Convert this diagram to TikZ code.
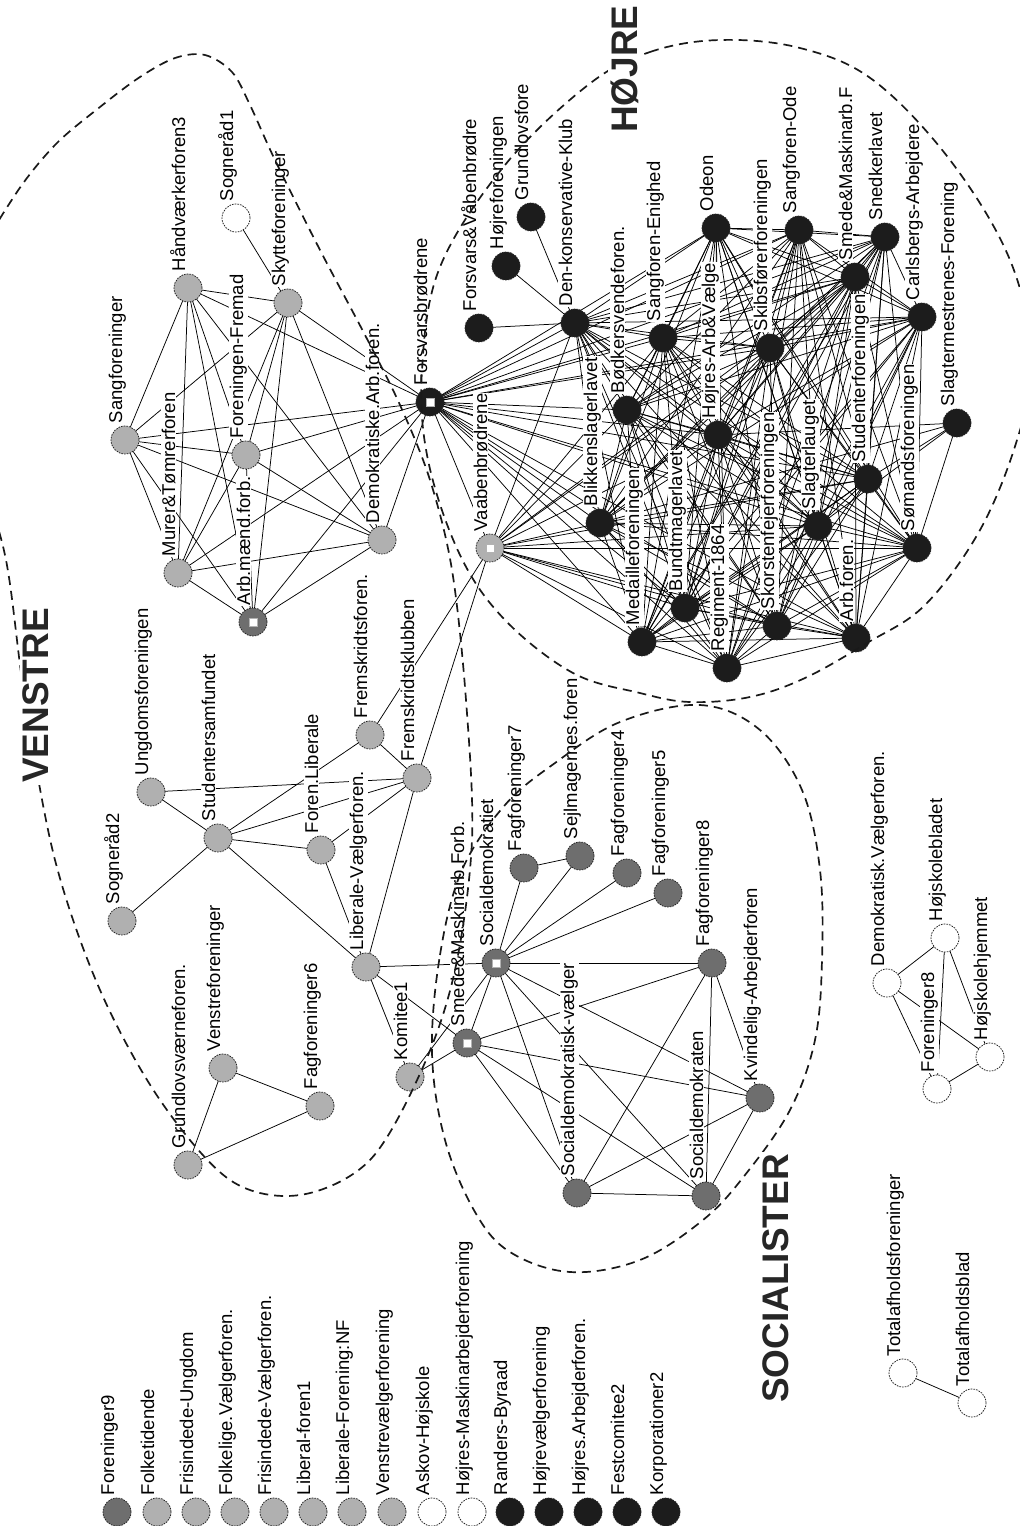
\documentclass[tikz,border=0pt]{standalone}
\usepackage{fontspec}
\setmainfont{Liberation Sans}
\definecolor{lg}{gray}{0.69}
\definecolor{dg}{gray}{0.43}
\definecolor{bk}{gray}{0.11}
\definecolor{wt}{gray}{1}
\tikzset{
 edge/.style={line width=0.75pt, draw=black},
 lbl/.style={rotate=90, anchor=base west, inner sep=0.8pt, fill=white, font=\fontsize{18.5}{18.5}\selectfont},
 circ/.style={circle, minimum size=28pt, inner sep=0pt, draw=black!85, dash pattern=on 1.6pt off 1.1pt, line width=0.8pt},
 sqmark/.style={rectangle, minimum size=8pt, inner sep=0pt, fill=white, draw=gray!60, line width=0.4pt},
 fobnode/.style={circle, minimum size=18pt, inner sep=0pt, fill=bk, draw=bk, line width=3pt},
 ell/.style={draw=black!90, line width=1.7pt, dash pattern=on 9pt off 6pt},
 title/.style={rotate=90, anchor=base west, inner sep=2pt, fill=white, font=\fontsize{37}{37}\selectfont\bfseries, text=black!85},
}
\begin{document}
\begin{tikzpicture}[x=1pt,y=-1pt]
\useasboundingbox (0,0) rectangle (1020,1526);
\fill[white] (0,0) rectangle (1020,1526);
\clip (0,0) rectangle (1020,1526);

\def\allnodes{san/125/440/lg/Sangforeninger,
hae/188/288/lg/Håndværkerforen3,
so1/236/218/wt/Sogneråd1,
sky/288/303/lg/Skytteforeninger,
fre/246/455/lg/Foreningen-Fremad,
mur/178/573/lg/Murer\&Tømrerforen,
amf/253/622/dg/Arb.mænd.forb.,
dem/382/540/lg/Demokratiske.Arb.foren.,
fob/430/402/bk/Forsvarsbrødrene,
vaa/490/548/lg/Vaabenbrødrene,
ung/151/792/lg/Ungdomsforeningen,
so2/122/921/lg/Sogneråd2,
sts/218/838/lg/Studentersamfundet,
fli/321/850/lg/Foren.Liberale,
fsf/370/735/lg/Fremskridtsforen.,
fsk/417/778/lg/Fremskridtsklubben,
lib/366/967/lg/Liberale-Vælgerforen.,
kom/410/1077/lg/Komitee1,
gru/188/1165/lg/Grundlovsværneforen.,
ven/223/1068/lg/Venstreforeninger,
fa6/320/1106/lg/Fagforeninger6,
smf/467/1043/dg/Smede\&Maskinarb.Forb.,
sdt/496/963/dg/Socialdemokratiet,
fa7/524/868/dg/Fagforeninger7,
sej/580/856/dg/Sejlmagernes.foren,
fa4/627/873/dg/Fagforeninger4,
fa5/668/893/dg/Fagforeninger5,
fa8/712/963/dg/Fagforeninger8,
sdv/577/1193/dg/Socialdemokratisk-vælger,
sdk/706/1196/dg/Socialdemokraten,
kva/760/1098/dg/Kvindelig-Arbejderforen,
dvf/887/983/wt/Demokratisk.Vælgerforen.,
hbl/945/938/wt/Højskolebladet,
hhj/990/1057/wt/Højskolehjemmet,
fo8/937/1089/wt/Foreninger8,
tfo/903/1373/wt/Totalafholdsforeninger,
tbl/972/1403/wt/Totalafholdsblad,
fvb/479/328/bk/Forsvars\&Våbenbrødre,
hfo/506/266/bk/Højreforeningen,
gfo/531/217/bk/Grundlovsfore,
dk/575/323/bk/Den-konservative-Klub,
bod/627/410/bk/Bødkersvendeforen.,
sen/663/338/bk/Sangforen-Enighed,
ode/716/228/bk/Odeon,
hav/718/435/bk/Højres-Arb\&Vælge,
bli/600/523/bk/Blikkenslagerlavet,
med/642/642/bk/Medailleforeningen,
bun/685/608/bk/Bundtmagerlavet,
reg/727/668/bk/Regiment-1864,
sko/777/626/bk/Skorstenfejerforeningen,
arb/856/638/bk/Arb.foren.,
sla/818/526/bk/Slagterlauget,
stu/868/479/bk/Studenterforeningen,
som/917/548/bk/Sømandsforeningen,
slm/957/423/bk/Slagtermestrenes-Forening,
ski/770/348/bk/Skibsførerforeningen,
sod/799/230/bk/Sangforen-Ode,
sma/855/277/bk/Smede\&Maskinarb.F,
sne/885/237/bk/Snedkerlavet,
car/922/317/bk/Carlsbergs-Arbejdere,
l01/117/1512/dg/Foreninger9,
l02/157/1512/lg/Folketidende,
l03/196/1512/lg/Frisindede-Ungdom,
l04/235/1512/lg/Folkelige.Vælgerforen.,
l05/274/1512/lg/Frisindede-Vælgerforen.,
l06/313/1512/lg/Liberal-foren1,
l07/352/1512/lg/Liberale-Forening:NF,
l08/392/1512/lg/Venstrevælgerforening,
l09/432/1512/wt/Askov-Højskole,
l10/472/1512/wt/Højres-Maskinarbejderforening,
l11/510/1512/bk/Randers-Byraad,
l12/549/1512/bk/Højrevælgerforening,
l13/588/1512/bk/Højres.Arbejderforen.,
l14/627/1512/bk/Festcomitee2,
l15/666/1512/bk/Korporationer2}

% positions
\foreach \n/\x/\y/\c/\t in \allnodes { \coordinate (\n) at (\x,\y); }

% connectors
\foreach \a/\b in {san/hae, san/fre, san/dem, san/fob, san/sky, san/mur, san/amf,
 hae/sky, hae/fob, hae/dem, hae/mur, hae/amf, hae/fre,
 sky/so1, sky/fre, sky/mur, sky/amf, sky/dem, sky/fob,
 fre/fob, fre/dem, fre/mur, fre/amf,
 mur/dem, mur/fob, mur/amf, amf/dem, amf/fob, dem/fob,
 fob/vaa, vaa/fsf, vaa/fsk,
 ung/sts, ung/fsk, sts/so2, sts/fsf, sts/fsk, sts/fli, sts/lib, fli/fsk, fli/lib, fsf/fsk, fsk/lib,
 lib/sdt, lib/kom, lib/smf, kom/smf, kom/sdt,
 gru/ven, gru/fa6, ven/fa6,
 sdt/fa7, sdt/sej, sdt/fa4, sdt/fa5, fa7/sej, sdt/fa8, sdt/smf, sdt/kva, sdt/sdk, sdt/sdv,
 smf/fa8, smf/kva, smf/sdk, smf/sdv,
 sdv/fa8, sdv/sdk, sdv/kva, sdk/fa8, sdk/kva, fa8/kva,
 dvf/hbl, dvf/hhj, dvf/fo8, hbl/fo8, hbl/hhj, hhj/fo8,
 tfo/tbl,
 fvb/dk, hfo/dk, gfo/dk,
 slm/som, slm/stu, slm/hav, slm/bli, slm/sla}
 { \draw[edge] (\a) -- (\b); }

\def\hcore{dk,bod,sen,ode,hav,bli,med,bun,reg,sko,arb,sla,stu,som,ski,sod,sma,sne,car}
\def\vcore{dk,bod,sen,hav,bli,med,bun,reg,sko,arb,sla,stu,som,ski,sma}
\foreach \a [count=\i] in \hcore {
  \foreach \b [count=\j] in \hcore {
    \ifnum\j>\i \draw[edge] (\a) -- (\b); \fi
  }
}
\foreach \a in \hcore { \draw[edge] (fob) -- (\a); }
\foreach \a in \vcore { \draw[edge] (vaa) -- (\a); }

% labels
\foreach \n/\x/\y/\c/\t in \allnodes { \node[lbl] (t-\n) at (\x-3,\y-16) {\t}; }

% node circles
\foreach \n/\x/\y/\c/\t in \allnodes { \node[circ, fill=\c] (c-\n) at (\n) {}; }
\node[fobnode] (c-fob2) at (fob) {};
\foreach \n in {amf,vaa,sdt,smf,fob} { \node[sqmark] (s-\n) at (\n) {}; }

% group outlines
\draw[ell] plot[smooth cycle, tension=0.55] coordinates {(-40,360) (-20,260) (15,195) (55,145) (100,107) (140,77) (175,58) (205,55) (232,72) (250,105) (275,160) (320,250) (365,335) (400,405) (430,480) (452,570) (466,700) (472,840) (455,970) (423,1067) (370,1160) (300,1195) (230,1180) (160,1100) (100,990) (55,860) (25,700) (6,560) (-22,460)};
\draw[ell] plot[smooth cycle, tension=0.6] coordinates {(588,85) (650,52) (720,40) (800,48) (873,80) (950,160) (1010,260) (1032,360) (1017,440) (980,530) (925,605) (867,643) (805,678) (750,697) (690,702) (640,693) (573,673) (505,620) (460,555) (428,460) (422,370) (440,267) (505,165)};
\draw[ell] plot[smooth cycle, tension=0.6] coordinates {(432,1053) (440,955) (462,870) (505,805) (555,763) (620,722) (700,705) (760,730) (802,790) (820,870) (822,960) (815,1040) (790,1110) (745,1175) (703,1220) (640,1260) (570,1272) (510,1252) (475,1212) (445,1140)};

% group titles
\node[title] (tv) at (48,785) {VENSTRE};
\node[title] (th) at (637,135) {HØJRE};
\node[title] (tsc) at (788,1405) {SOCIALISTER};
\end{tikzpicture}
\end{document}
